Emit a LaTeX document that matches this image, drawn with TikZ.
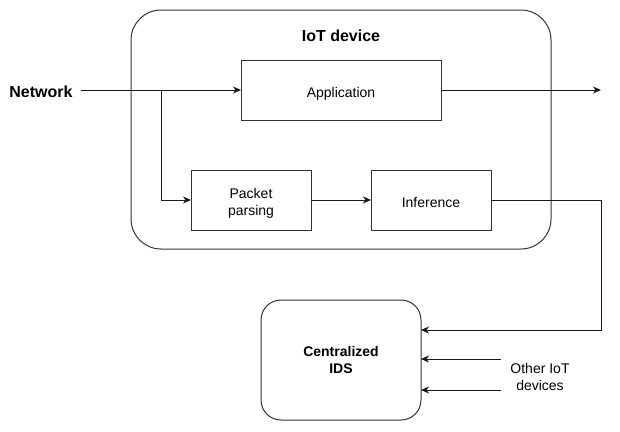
\documentclass[tikz,border=0pt]{standalone}
\usepackage{fontspec}
\setmainfont{Liberation Sans}
\usetikzlibrary{arrows.meta}
\newcommand{\dnbox}[2][-4pt]{\raisebox{#1}[\height][\depth]{\begin{tabular}{@{}c@{}}#2\end{tabular}}}
\begin{document}
\begin{tikzpicture}[x=1pt,y=-1pt,
  box/.style={draw=black!80, line width=1pt, inner sep=0pt, outer sep=0pt, align=center, font=\fontsize{14}{17}\selectfont},
  arr/.style={draw=black!90, line width=1pt, -{Stealth[length=8pt,width=7pt,inset=2.5pt]}},
  lbl/.style={inner sep=0pt, align=center, font=\fontsize{14}{17}\selectfont},
  blbl/.style={inner sep=0pt, align=center, font=\bfseries\fontsize{16}{19}\selectfont}]
\useasboundingbox[fill=white] (0,0) rectangle (620,431);
% containers
\node[box, rounded corners=30pt, minimum width=420pt, minimum height=239pt] (iot) at (341,129.5) {};
\node[blbl] (iottitle) at (341,36) {IoT device};
\node[box, minimum width=200pt, minimum height=60pt] (app) at (341,90) {\dnbox{Application}};
\node[box, minimum width=120pt, minimum height=60pt] (pp) at (251,200) {\dnbox{Packet\\parsing}};
\node[box, minimum width=120pt, minimum height=60pt] (inf) at (431,200) {\dnbox{Inference}};
\node[box, rounded corners=20pt, minimum width=160pt, minimum height=120pt, font=\bfseries\fontsize{14}{17}\selectfont] (ids) at (341,360) {\dnbox[-2pt]{Centralized\\IDS}};
% labels
\node[blbl, inner xsep=8pt] (network) at (41,92) {Network};
\node[lbl] (others) at (540,377) {Other IoT\\devices};
% coordinates
\coordinate (split) at (161,90);
\coordinate (out) at (601,90);
\coordinate (c1) at (601,200);
\coordinate (o1) at (501,359);
\coordinate (o2) at (501,390);
% connectors
\draw[arr] (network.east |- app.west) -- (app.west);
\draw[arr] (split) |- (pp.west);
\draw[arr] (pp.east) -- (inf.west);
\draw[arr] (app.east) -- (out);
\draw[arr] (inf.east) -- (c1) |- ([yshift=30pt]ids.east);
\draw[arr] (o1) -- ([yshift=1pt]ids.east);
\draw[arr] (o2) -- ([yshift=-30pt]ids.east);
\end{tikzpicture}
\end{document}
